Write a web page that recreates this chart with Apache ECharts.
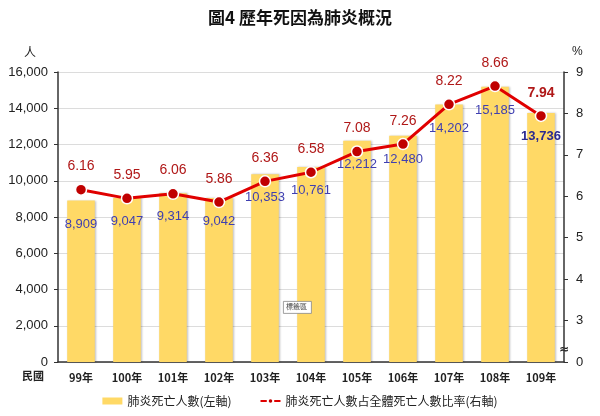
<!DOCTYPE html>
<html>
<head>
<meta charset="utf-8">
<script src="https://cdn.jsdelivr.net/npm/echarts@6/dist/echarts.min.js"></script>
<style>
  html, body { margin: 0; padding: 0; background: #fff; }
  #main { width: 600px; height: 416px; }
</style>
</head>
<body>
<div id="main"></div>
<script>
var myChart = echarts.init(document.getElementById('main'));

// 民國年
var years = ['99年', '100年', '101年', '102年', '103年', '104年', '105年', '106年', '107年', '108年', '109年'];
// 肺炎死亡人數
var deaths = [8909, 9047, 9314, 9042, 10353, 10761, 12212, 12480, 14202, 15185, 13736];
// 占全體死亡人數比率 (%)
var rates = [6.16, 5.95, 6.06, 5.86, 6.36, 6.58, 7.08, 7.26, 8.22, 8.66, 7.94];

var fontCJK = '"Noto Sans CJK TC", "Noto Sans CJK SC", sans-serif';
var fontNum = '"Liberation Sans", Arial, sans-serif';
var lastIdx = years.length - 1;

option = {
  animation: false,
  backgroundColor: '#fff',
  title: {
    text: '圖4 歷年死因為肺炎概況',
    left: 'center',
    top: 4,
    textStyle: {
      fontFamily: fontCJK,
      fontSize: 17,
      fontWeight: 'bold',
      color: '#111'
    }
  },
  legend: {
    bottom: 4,
    left: 'center',
    itemGap: 28,
    itemWidth: 20,
    itemHeight: 7,
    textStyle: {
      fontFamily: fontCJK,
      fontSize: 12,
      color: '#222'
    },
    data: [
      { name: '肺炎死亡人數(左軸)', icon: 'rect' },
      { name: '肺炎死亡人數占全體死亡人數比率(右軸)' }
    ]
  },
  grid: {
    left: 58,
    right: 36,
    top: 72,
    bottom: 54
  },
  xAxis: {
    type: 'category',
    data: years,
    axisLine: { lineStyle: { color: '#333', width: 1.5 } },
    axisTick: { show: false },
    axisLabel: {
      margin: 10,
      fontFamily: fontCJK,
      fontWeight: 'bold',
      fontSize: 11,
      color: '#222'
    }
  },
  yAxis: [
    {
      type: 'value',
      name: '人',
      nameGap: 14,
      nameTextStyle: { fontFamily: fontCJK, fontSize: 12, color: '#222', align: 'right', padding: [0, 22, 0, 0] },
      min: 0,
      max: 16000,
      interval: 2000,
      axisLine: { show: true, lineStyle: { color: '#333', width: 1.5 } },
      axisTick: { show: true, inside: false, length: 4, lineStyle: { color: '#333' } },
      axisLabel: {
        fontFamily: fontNum,
        fontSize: 13,
        color: '#222',
        margin: 10,
        formatter: function (v) { return v.toLocaleString('en-US'); }
      },
      splitLine: { lineStyle: { color: '#dcdcdc' } }
    },
    {
      type: 'value',
      name: '%',
      nameGap: 14,
      nameTextStyle: { fontFamily: fontNum, fontSize: 12, color: '#222', align: 'left', padding: [0, 0, 0, 8] },
      min: 2,
      max: 9,
      interval: 1,
      position: 'right',
      axisLine: { show: true, lineStyle: { color: '#333', width: 1.5 } },
      axisTick: { show: true, length: 4, lineStyle: { color: '#333' } },
      axisLabel: {
        fontFamily: fontNum,
        fontSize: 13,
        color: '#222',
        margin: 12,
        formatter: function (v) { return v === 2 ? '0' : String(v); }
      },
      splitLine: { show: false }
    }
  ],
  graphic: [
    {
      type: 'text',
      left: 22,
      top: 370,
      style: { text: '民國', fontFamily: fontCJK, fontWeight: 'bold', fontSize: 11, fill: '#222' }
    },
    {
      type: 'text',
      left: 559,
      top: 344,
      style: { text: '≈', fontFamily: 'DejaVu Sans', fontSize: 12, fill: '#222', fontWeight: 'bold' }
    },
    {
      type: 'rect',
      left: 283,
      top: 301,
      shape: { width: 28, height: 12 },
      style: { fill: '#fff', stroke: '#888', lineWidth: 0.8 },
      z: 10
    },
    {
      type: 'text',
      left: 286,
      top: 303,
      style: { text: '標籤區', fontFamily: fontCJK, fontSize: 7, fill: '#444' },
      z: 11
    }
  ],
  series: [
    {
      name: '肺炎死亡人數(左軸)',
      type: 'bar',
      yAxisIndex: 0,
      barWidth: '60%',
      itemStyle: {
        color: '#FFD966',
        shadowColor: 'rgba(0,0,0,0.25)',
        shadowBlur: 2,
        shadowOffsetX: 1,
        shadowOffsetY: 0
      },
      label: {
        show: true,
        position: 'insideTop',
        distance: 17,
        fontFamily: fontNum,
        fontSize: 13,
        color: '#3F3FB0',
        formatter: function (p) { return p.value.toLocaleString('en-US'); }
      },
      data: deaths.map(function (v, i) {
        if (i === lastIdx) {
          return { value: v, label: { fontWeight: 'bold', color: '#2A2A90' } };
        }
        return v;
      }),
      z: 1
    },
    {
      name: '肺炎死亡人數占全體死亡人數比率(右軸)',
      type: 'line',
      yAxisIndex: 1,
      symbol: 'circle',
      symbolSize: 11,
      lineStyle: { color: '#E00000', width: 3 },
      itemStyle: { color: '#C00000', borderColor: '#fff', borderWidth: 1.5 },
      label: {
        show: true,
        position: 'top',
        distance: 10,
        fontFamily: fontNum,
        fontSize: 14,
        color: '#B01818',
        formatter: function (p) { return p.value.toFixed(2); }
      },
      data: rates.map(function (v, i) {
        if (i === lastIdx) {
          return { value: v, label: { fontWeight: 'bold' } };
        }
        return v;
      }),
      z: 3
    }
  ]
};

myChart.setOption(option);
</script>
</body>
</html>
